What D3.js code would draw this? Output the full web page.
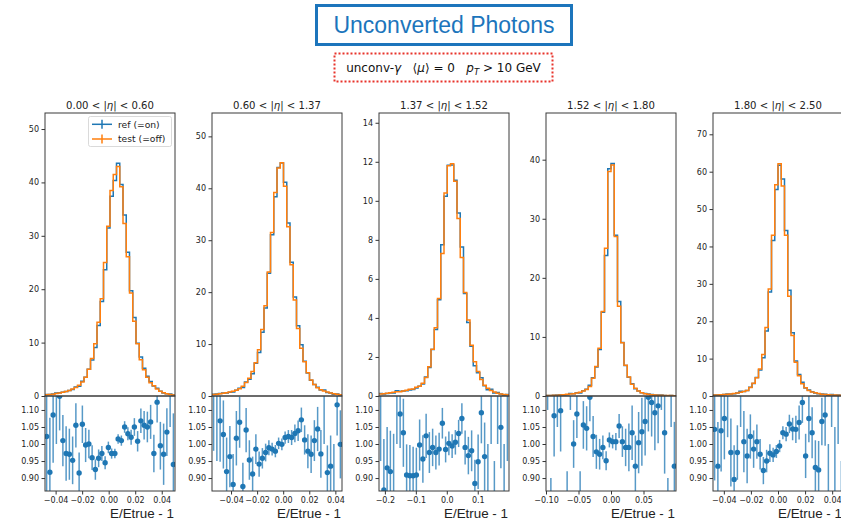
<!DOCTYPE html>
<html>
<head>
<meta charset="utf-8">
<script src="https://cdn.jsdelivr.net/npm/d3@7"></script>
<style>
  body { margin: 0; background: #fff; }
  svg { display: block; }
</style>
</head>
<body>
<svg id="chart" width="841" height="519"></svg>
<script>
// |eta| slices shown left to right
const etaLow  = ["0.00", "0.60", "1.37", "1.52", "1.80"];
const etaHigh = ["0.60", "1.37", "1.52", "1.80", "2.50"];

// E/Etrue - 1 range of each slice (40 bins across it)
const xRanges = [[-0.048, 0.050], [-0.0546, 0.0451], [-0.219, 0.201], [-0.1, 0.1], [-0.048, 0.048]];
const xTickValues = [
  [-0.04, -0.02, 0, 0.02, 0.04],
  [-0.04, -0.02, 0, 0.02, 0.04],
  [-0.2, -0.1, 0, 0.1],
  [-0.1, -0.05, 0, 0.05],
  [-0.04, -0.02, 0, 0.02, 0.04]
];
const xTickFormats = [".2f", ".2f", ".1f", ".2f", ".2f"];

// upper-panel y ranges and ticks
const yMaxMain = [53, 54.5, 14.5, 47.9, 75.7];
const yTicksMain = [
  [0, 10, 20, 30, 40, 50],
  [0, 10, 20, 30, 40, 50],
  [0, 2, 4, 6, 8, 10, 12, 14],
  [0, 10, 20, 30, 40],
  [0, 10, 20, 30, 40, 50, 60, 70]
];

// ratio panel range and ticks
const ratioRange = [0.862, 1.141];
const ratioTicks = [0.90, 0.95, 1.00, 1.05, 1.10];

// ---- histograms: ref (=on) and test (=off) ----
const refEta1  = [0.26,0.27,0.38,0.54,0.63,0.71,0.83,1.02,1.24,1.69,1.83,2.75,3.49,5.0,6.72,9.07,13.22,17.69,23.63,31.48,37.42,40.34,43.6,39.6,33.9,26.9,19.7,14.7,9.9,7.3,5.2,3.7,2.7,1.85,1.46,0.9,0.58,0.41,0.38,0.19];
const testEta1 = [0.25,0.3,0.35,0.45,0.55,0.7,0.85,1.05,1.3,1.6,2.0,2.6,3.5,5.0,7.0,9.8,13.8,18.2,25.0,31.8,38.5,41.5,43.0,39.2,32.3,26.1,19.3,14.0,9.8,6.8,4.9,3.5,2.5,1.9,1.3,0.9,0.6,0.4,0.3,0.2];

const refEta2  = [0.35,0.40,0.48,0.57,0.60,0.72,0.79,1.12,1.49,1.66,2.71,3.24,4.29,6.30,8.37,12.26,16.97,23.64,31.03,38.38,43.99,44.86,41.17,33.32,25.78,19.07,13.51,9.85,6.68,4.41,3.01,2.22,1.67,1.17,1.14,0.69,0.56,0.36,0.39,0.25];
const testEta2 = [0.3,0.35,0.45,0.55,0.65,0.75,0.9,1.1,1.4,1.9,2.6,3.4,4.7,6.4,8.9,12.8,17.4,23.9,31.5,39.2,43.9,44.9,40.4,32.6,25.3,18.5,13.0,9.2,6.6,4.5,3.1,2.2,1.6,1.2,0.95,0.75,0.6,0.45,0.35,0.25];

const refEta3  = [0.125,0.104,0.13,0.156,0.148,0.264,0.239,0.258,0.273,0.308,0.327,0.409,0.499,0.621,0.973,1.46,2.38,3.41,4.93,7.75,10.23,11.82,11.83,11.06,9.38,7.63,5.25,3.77,2.55,1.55,1.19,0.93,0.53,0.32,0.35,0.15,0.18,0.105,0.056,0.075];
const testEta3 = [0.1,0.12,0.14,0.17,0.19,0.22,0.22,0.25,0.3,0.34,0.36,0.45,0.5,0.65,0.95,1.5,2.4,3.5,5.0,7.3,10.4,11.8,11.9,11.0,9.1,7.1,5.3,3.9,2.6,1.75,1.25,0.85,0.55,0.4,0.28,0.2,0.14,0.1,0.08,0.06];

const refEta4  = [0.104,0.075,0.13,0.175,0.198,0.154,0.224,0.41,0.4,0.544,0.52,0.898,1.15,1.82,3.07,4.89,7.86,14.16,23.78,38.46,39.37,27.19,16.0,9.06,5.15,3.17,2.07,1.22,0.85,0.57,0.43,0.34,0.25,0.19,0.16,0.16,0.10,0.06,0.09,0.056];
const testEta4 = [0.08,0.1,0.12,0.14,0.18,0.22,0.28,0.33,0.4,0.5,0.65,0.85,1.1,1.6,3.0,5.0,8.1,14.3,25.0,38.0,39.1,27.0,15.2,9.0,5.2,3.2,2.0,1.3,0.85,0.55,0.4,0.3,0.22,0.17,0.14,0.12,0.1,0.08,0.07,0.06];

const refEta5  = [0.26,0.28,0.36,0.43,0.55,0.54,0.58,0.78,1.25,1.21,1.45,2.35,3.35,4.93,6.98,10.23,17.39,27.83,41.62,55.26,61.73,58.06,44.25,28.28,16.91,9.39,5.74,3.70,2.12,1.61,1.14,0.79,0.60,0.53,0.46,0.28,0.38,0.21,0.26,0.14];
const testEta5 = [0.25,0.3,0.35,0.4,0.45,0.55,0.65,0.8,1.0,1.2,1.5,2.3,3.4,4.9,7.2,11.1,18.3,28.6,43.0,56.5,62.1,56.2,43.0,26.7,16.2,9.0,5.4,3.3,2.2,1.5,1.1,0.85,0.65,0.5,0.42,0.35,0.3,0.25,0.22,0.2];

// ---- ratio ref/test per bin and its uncertainty ----
const ratioEta1 = [1.022,0.917,1.085,1.2,1.14,1.01,0.972,0.97,0.952,1.055,0.915,1.058,0.997,1.0,0.96,0.925,0.958,0.972,0.945,0.99,0.972,0.972,1.015,1.01,1.05,1.03,1.02,1.05,1.008,1.068,1.055,1.05,1.065,0.972,1.123,0.995,0.97,1.035,1.25,0.94];
const errEta1   = [0.2,0.16,0.14,0.2,0.1,0.075,0.08,0.075,0.07,0.065,0.06,0.055,0.05,0.042,0.036,0.03,0.026,0.022,0.019,0.017,0.015,0.014,0.014,0.015,0.017,0.019,0.022,0.026,0.03,0.036,0.042,0.045,0.05,0.055,0.06,0.07,0.09,0.07,0.2,0.15];

const ratioEta2 = [1.18,1.15,1.068,1.028,0.919,0.963,0.881,1.017,1.064,0.875,1.041,0.953,0.912,0.985,0.941,0.958,0.975,0.989,0.985,0.979,1.002,0.999,1.019,1.022,1.019,1.031,1.039,1.071,1.012,0.979,0.970,1.01,1.044,0.971,1.2,0.916,0.935,0.8,1.115,0.999];
const errEta2   = [0.2,0.2,0.12,0.1,0.1,0.09,0.09,0.08,0.075,0.07,0.065,0.058,0.051,0.044,0.037,0.03,0.026,0.022,0.019,0.018,0.017,0.017,0.018,0.019,0.022,0.026,0.03,0.036,0.043,0.05,0.055,0.06,0.065,0.07,0.2,0.08,0.09,0.2,0.09,0.1];

const ratioEta3 = [1.25,0.865,0.930,0.919,0.78,1.2,1.088,1.033,0.909,0.907,0.907,0.909,0.997,0.956,1.024,0.975,0.99,0.975,0.985,1.061,0.984,1.002,0.994,1.005,1.031,1.075,0.99,0.966,0.98,0.884,0.948,1.092,0.963,0.8,1.25,0.75,1.3,1.049,0.7,1.25];
const errEta3   = [0.3,0.15,0.12,0.12,0.25,0.2,0.1,0.1,0.09,0.09,0.085,0.08,0.075,0.07,0.065,0.06,0.055,0.05,0.048,0.045,0.038,0.035,0.035,0.036,0.04,0.045,0.05,0.055,0.06,0.07,0.08,0.09,0.1,0.2,0.25,0.2,0.3,0.12,0.3,0.3];

const ratioEta4 = [1.3,0.75,1.083,1.25,1.098,0.7,0.8,1.25,1.0,1.088,0.8,1.056,1.046,1.137,1.022,0.977,0.97,0.99,0.951,1.012,1.007,1.007,1.053,1.007,0.99,0.99,1.033,0.935,1.004,1.036,1.066,1.137,1.122,1.092,1.112,1.3,1.033,0.75,1.25,0.935];
const errEta4   = [0.2,0.15,0.12,0.2,0.12,0.15,0.12,0.15,0.07,0.07,0.12,0.07,0.065,0.07,0.06,0.05,0.045,0.035,0.028,0.022,0.02,0.025,0.035,0.045,0.055,0.07,0.08,0.09,0.09,0.1,0.1,0.1,0.1,0.11,0.11,0.2,0.12,0.15,0.2,0.13];

const ratioEta5 = [1.043,0.935,1.039,1.075,1.22,0.975,0.896,0.975,1.25,1.007,0.965,1.022,0.985,1.007,0.970,0.922,0.95,0.973,0.968,0.978,0.994,1.033,1.029,1.059,1.044,1.043,1.063,1.122,0.965,1.075,1.033,0.931,0.924,1.066,1.085,0.8,1.25,0.85,1.2,0.7];
const errEta5   = [0.15,0.13,0.12,0.12,0.2,0.1,0.1,0.08,0.2,0.09,0.08,0.065,0.055,0.05,0.045,0.04,0.033,0.026,0.021,0.019,0.018,0.019,0.021,0.027,0.033,0.04,0.05,0.06,0.065,0.07,0.075,0.08,0.085,0.07,0.09,0.2,0.2,0.2,0.2,0.25];

const refSets   = [refEta1, refEta2, refEta3, refEta4, refEta5];
const testSets  = [testEta1, testEta2, testEta3, testEta4, testEta5];
const ratioSets = [ratioEta1, ratioEta2, ratioEta3, ratioEta4, ratioEta5];
const errSets   = [errEta1, errEta2, errEta3, errEta4, errEta5];

const seriesNames = ["ref (=on)", "test (=off)"];
const colRef = "#1f77b4", colTest = "#ff7f0e";

// ---- layout ----
const svg = d3.select("#chart");
const panelLeft0 = 45, panelStep = 167, panelW = 130;
const mainTop = 113, splitY = 396, ratioBottom = 491;
const tickFont = "DejaVu Sans, sans-serif";
const tickSize = 8;

// header boxes
svg.append("rect").attr("x", 316.5).attr("y", 5.5).attr("width", 255).attr("height", 39)
  .attr("fill", "none").attr("stroke", "#1c75bc").attr("stroke-width", 3);
svg.append("text").attr("x", 444).attr("y", 33).attr("text-anchor", "middle")
  .attr("font-family", "Liberation Sans, Arial, sans-serif").attr("font-size", 23)
  .attr("fill", "#1c75bc").text("Unconverted Photons");

svg.append("rect").attr("x", 334.5).attr("y", 53.5).attr("width", 218).attr("height", 28)
  .attr("fill", "none").attr("stroke", "#e8332b").attr("stroke-width", 2)
  .attr("stroke-dasharray", "2,2");
const sub = svg.append("text").attr("x", 443.5).attr("y", 72).attr("text-anchor", "middle")
  .attr("font-family", tickFont).attr("font-size", 12).attr("fill", "#111")
  .style("white-space", "pre");
sub.append("tspan").text("unconv-");
sub.append("tspan").attr("font-style", "italic").text("γ");
sub.append("tspan").text("   \u27E8");
sub.append("tspan").attr("font-style", "italic").text("μ");
sub.append("tspan").text("\u27E9 = 0   ");
sub.append("tspan").attr("font-style", "italic").text("p");
sub.append("tspan").attr("font-style", "italic").attr("font-size", 8.5).attr("dy", 3).text("T");
sub.append("tspan").attr("dy", -3).text(" > 10 GeV");

const defs = svg.append("defs");

etaLow.forEach((lo, p) => {
  const left = panelLeft0 + p * panelStep;
  const right = left + panelW;
  const x = d3.scaleLinear().domain(xRanges[p]).range([left, right]);
  const y = d3.scaleLinear().domain([0, yMaxMain[p]]).range([splitY, mainTop]);
  const yr = d3.scaleLinear().domain(ratioRange).range([ratioBottom, splitY]);

  const nBins = testSets[p].length;
  const edges = d3.range(nBins + 1).map(k => xRanges[p][0] + k * (xRanges[p][1] - xRanges[p][0]) / nBins);

  const g = svg.append("g");

  defs.append("clipPath").attr("id", "clipMain" + p)
    .append("rect").attr("x", left).attr("y", mainTop).attr("width", panelW).attr("height", splitY - mainTop);
  defs.append("clipPath").attr("id", "clipRatio" + p)
    .append("rect").attr("x", left).attr("y", splitY).attr("width", panelW).attr("height", ratioBottom - splitY);

  // title
  const t = g.append("text").attr("x", (left + right) / 2).attr("y", 108.5)
    .attr("text-anchor", "middle").attr("font-family", tickFont).attr("font-size", 10.1).attr("fill", "#222");
  t.append("tspan").text(lo + " < |");
  t.append("tspan").attr("font-style", "italic").text("η");
  t.append("tspan").text("| < " + etaHigh[p]);

  // histograms
  const stepLine = d3.line().curve(d3.curveStepAfter).x(d => x(d[0])).y(d => y(d[1]));
  const mainG = g.append("g").attr("clip-path", `url(#clipMain${p})`);
  [[refSets[p], colRef], [testSets[p], colTest]].forEach(([vals, col]) => {
    const pts = vals.map((v, k) => [edges[k], v]);
    pts.push([edges[nBins], vals[nBins - 1]]);
    mainG.append("path").attr("d", stepLine(pts)).attr("fill", "none")
      .attr("stroke", col).attr("stroke-width", 1.5);
  });

  // ratio points with error bars
  const ratioG = g.append("g").attr("clip-path", `url(#clipRatio${p})`);
  ratioSets[p].forEach((r, k) => {
    const cx = x((edges[k] + edges[k + 1]) / 2);
    const e = errSets[p][k];
    ratioG.append("line").attr("x1", cx).attr("x2", cx)
      .attr("y1", yr(r - e)).attr("y2", yr(r + e))
      .attr("stroke", colRef).attr("stroke-opacity", 0.75).attr("stroke-width", 1.5);
    ratioG.append("circle").attr("cx", cx).attr("cy", yr(r)).attr("r", 2.7).attr("fill", colRef);
  });

  // axes
  const styleAxis = sel => {
    sel.select(".domain").remove();
    sel.selectAll("text").attr("font-family", tickFont).attr("font-size", tickSize).attr("fill", "#222");
    sel.selectAll("line").attr("stroke", "#333");
  };
  g.append("g").attr("transform", `translate(${left},0)`)
    .call(d3.axisLeft(y).tickValues(yTicksMain[p]).tickFormat(d3.format("d")).tickSize(3.5).tickPadding(2.5))
    .call(styleAxis);
  g.append("g").attr("transform", `translate(${left},0)`)
    .call(d3.axisLeft(yr).tickValues(ratioTicks).tickFormat(d3.format(".2f")).tickSize(3.5).tickPadding(2.5))
    .call(styleAxis);
  g.append("g").attr("transform", `translate(0,${ratioBottom})`)
    .call(d3.axisBottom(x).tickValues(xTickValues[p]).tickFormat(d3.format(xTickFormats[p])).tickSize(3.5).tickPadding(2.5))
    .call(styleAxis);

  // frames
  g.append("rect").attr("x", left).attr("y", mainTop).attr("width", panelW).attr("height", splitY - mainTop)
    .attr("fill", "none").attr("stroke", "#3a3a3a").attr("stroke-width", 1);
  g.append("rect").attr("x", left).attr("y", splitY).attr("width", panelW).attr("height", ratioBottom - splitY)
    .attr("fill", "none").attr("stroke", "#3a3a3a").attr("stroke-width", 1);

  // x label
  g.append("text").attr("x", right - 1).attr("y", 517.5).attr("text-anchor", "end")
    .attr("font-family", "Liberation Sans, Arial, sans-serif").attr("font-size", 13.4).attr("fill", "#222")
    .text("E/Etrue - 1");

  // legend in the first slice
  if (p === 0) {
    const lg = g.append("g");
    lg.append("rect").attr("x", 88.5).attr("y", 116.5).attr("width", 83).attr("height", 30).attr("rx", 2)
      .attr("fill", "#fff").attr("fill-opacity", 0.8).attr("stroke", "#d0d0d0").attr("stroke-width", 0.8);
    seriesNames.forEach((name, k) => {
      const cy = 124.3 + k * 14.7;
      const col = k === 0 ? colRef : colTest;
      lg.append("line").attr("x1", 92).attr("x2", 112).attr("y1", cy).attr("y2", cy)
        .attr("stroke", col).attr("stroke-width", 1.5);
      lg.append("line").attr("x1", 102).attr("x2", 102).attr("y1", cy - 4.5).attr("y2", cy + 4.5)
        .attr("stroke", col).attr("stroke-width", 1.5);
      lg.append("text").attr("x", 118).attr("y", cy + 3.2).attr("font-family", tickFont)
        .attr("font-size", 9.2).attr("fill", "#222").text(name);
    });
  }
});
</script>
</body>
</html>
